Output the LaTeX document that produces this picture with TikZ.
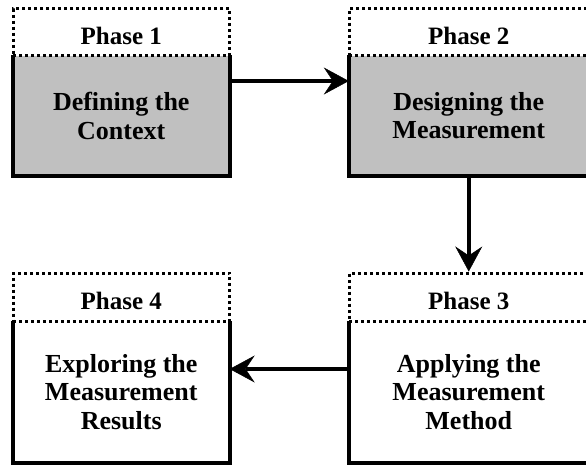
\documentclass[tikz,border=0pt]{standalone}
\usepackage{fontspec}
\setmainfont{Liberation Serif}
\usetikzlibrary{arrows.meta}
\definecolor{boxgray}{RGB}{192,192,192}
\begin{document}
\begin{tikzpicture}[x=1pt,y=1pt,
  headbox/.style={font=\fontsize{25}{28.5}\selectfont\bfseries, rectangle, draw=black, dash pattern=on 3pt off 3pt, line width=3pt,
    inner sep=0pt, text height=24pt, text depth=0pt},
  bodybox/.style={font=\fontsize{26}{28.5}\selectfont\bfseries, rectangle, inner sep=0pt, align=center},
  border/.style={line width=4pt, line join=miter},
  arr/.style={line width=4pt, -{Stealth[length=25pt,width=27pt,inset=9pt,line width=0.5pt]}}]
\useasboundingbox (0,0) rectangle (586,-464);
% bodies
\node[bodybox, fill=boxgray, minimum width=216.5pt, minimum height=120.5pt] (b1) at (121.25,-115.75) {Defining the\\Context};
\node[bodybox, fill=boxgray, minimum width=239.5pt, minimum height=120.5pt] (b2) at (468.75,-115.75) {Designing the\\Measurement};
\node[bodybox, minimum width=239.5pt, minimum height=141pt] (b3) at (468.75,-392) {Applying the\\Measurement\\Method};
\node[bodybox, minimum width=216.5pt, minimum height=141pt] (b4) at (121.25,-392) {Exploring the\\Measurement\\Results};
\foreach \b in {b1,b2,b3,b4}{
  \draw[border] (\b.north west) -- (\b.south west) -- (\b.south east) -- (\b.north east);
}
% headers
\node[headbox, minimum width=216.5pt, minimum height=47pt] (h1) at (121.25,-32) {Phase 1};
\node[headbox, minimum width=239.5pt, minimum height=47pt] (h2) at (468.75,-32) {Phase 2};
\node[headbox, minimum width=239.5pt, minimum height=48.5pt] (h3) at (468.75,-297.25) {Phase 3};
\node[headbox, minimum width=216.5pt, minimum height=48.5pt] (h4) at (121.25,-297.25) {Phase 4};
% connectors
\coordinate (a1) at (0,-81);
\coordinate (a2) at (0,-369);
\draw[arr] (b1.east |- a1) -- (b2.west |- a1);
\draw[arr] (b2.south) -- (h3.north);
\draw[arr] (b3.west |- a2) -- (b4.east |- a2);
\end{tikzpicture}
\end{document}
